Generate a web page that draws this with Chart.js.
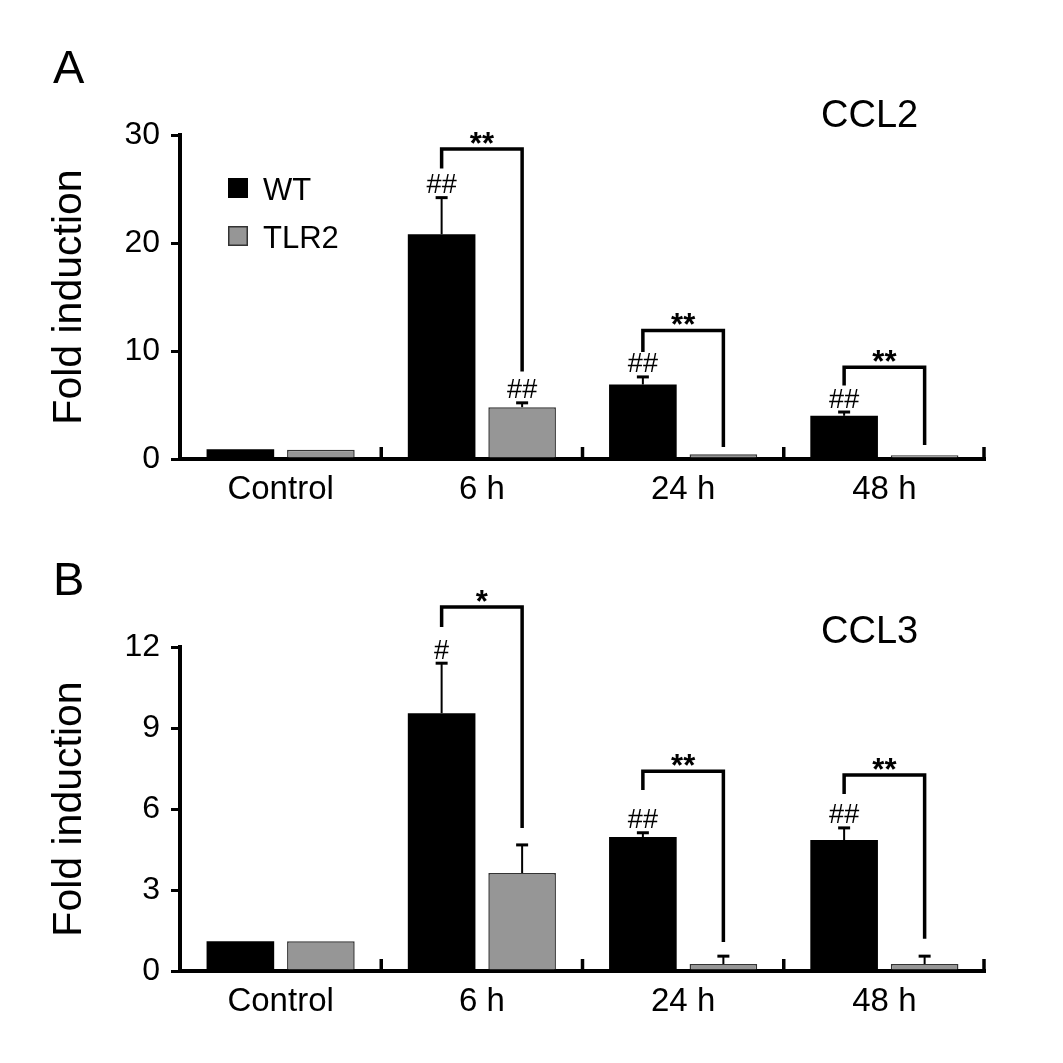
<!DOCTYPE html>
<html><head><meta charset="utf-8">
<script src="https://cdn.jsdelivr.net/npm/chart.js@4.4.1/dist/chart.umd.min.js"></script>
<style>
html,body{margin:0;padding:0;background:#fff;}
#wrap{position:relative;width:1063px;height:1063px;background:#fff;}
canvas{position:absolute;left:0;display:block;}
</style></head><body>
<div id="wrap">
<canvas id="cA" width="1063" height="531" style="top:0"></canvas>
<canvas id="cB" width="1063" height="532" style="top:531px"></canvas>
</div>
<script>
// ---------- DATA ----------
const categories = ['Control', '6 h', '24 h', '48 h'];
const seriesNames = ['WT', 'TLR2'];

// Panel A: CCL2
const ccl2YTicks = [0, 10, 20, 30];
const ccl2WT = [0.9, 20.8, 6.9, 4.0];
const ccl2TLR2 = [0.85, 4.8, 0.45, 0.35];
const ccl2WTErrTop = [null, 24.2, 7.6, 4.35];
const ccl2TLR2ErrTop = [null, 5.2, null, null];
const ccl2WTMark = ['', '##', '##', '##'];
const ccl2TLR2Mark = ['', '##', '', ''];
const ccl2BracketLeft = [null, 26.9, 9.9, 6.8];
const ccl2BracketTop = [null, 28.7, 11.9, 8.5];
const ccl2BracketRight = [null, 8.1, 1.1, 1.3];
const ccl2BracketLabel = ['', '**', '**', '**'];

// Panel B: CCL3
const ccl3YTicks = [0, 3, 6, 9, 12];
const ccl3WT = [1.1, 9.55, 4.96, 4.85];
const ccl3TLR2 = [1.1, 3.63, 0.26, 0.26];
const ccl3WTErrTop = [null, 11.4, 5.12, 5.3];
const ccl3TLR2ErrTop = [null, 4.67, 0.55, 0.55];
const ccl3WTMark = ['', '#', '##', '##'];
const ccl3TLR2Mark = ['', '', '', ''];
const ccl3BracketLeft = [null, 12.74, 6.7, 6.56];
const ccl3BracketTop = [null, 13.48, 7.4, 7.26];
const ccl3BracketRight = [null, 5.3, 1.07, 1.19];
const ccl3BracketLabel = ['', '*', '**', '**'];

// ---------- STYLE ----------
const FONT = '"Liberation Sans", Arial, Helvetica, sans-serif';
const WT_COLOR = '#000000';
const TLR2_COLOR = '#969696';
const TLR2_BORDER = '#333333';

function makeChart(id, d) {
  const annot = {
    id: 'annot',
    afterDatasetsDraw(chart) {
      const ctx = chart.ctx;
      const ys = chart.scales.y, xs = chart.scales.x;
      const area = chart.chartArea;
      const m0 = chart.getDatasetMeta(0), m1 = chart.getDatasetMeta(1);
      ctx.save();
      ctx.strokeStyle = '#000';
      ctx.fillStyle = '#000';
      ctx.lineCap = 'butt';
      // category separator ticks on x axis (pointing up)
      ctx.lineWidth = 3.5;
      for (let i = 0; i < categories.length; i++) {
        let bx;
        if (i < categories.length - 1) bx = (xs.getPixelForTick(i) + xs.getPixelForTick(i + 1)) / 2;
        else bx = area.right - 1;
        ctx.beginPath(); ctx.moveTo(bx, area.bottom); ctx.lineTo(bx, area.bottom - 12); ctx.stroke();
      }
      // error bars + marks
      const sets = [[m0, d.wtErr, d.wt, d.wtMark], [m1, d.tlErr, d.tl, d.tlMark]];
      sets.forEach(([meta, errs, vals, marks]) => {
        vals.forEach((v, i) => {
          const x = meta.data[i].x;
          const yb = ys.getPixelForValue(v);
          let topPx = yb;
          if (errs[i] != null) {
            const ye = ys.getPixelForValue(errs[i]);
            ctx.lineWidth = 2;
            ctx.beginPath(); ctx.moveTo(x, yb); ctx.lineTo(x, ye); ctx.stroke();
            ctx.lineWidth = 3;
            ctx.beginPath(); ctx.moveTo(x - 6, ye); ctx.lineTo(x + 6, ye); ctx.stroke();
            topPx = ye - 1.5;
          }
          if (marks[i]) {
            ctx.font = '27px ' + FONT;
            ctx.textAlign = 'center';
            ctx.textBaseline = 'alphabetic';
            ctx.fillText(marks[i], x, topPx - 3);
          }
        });
      });
      // brackets
      d.bl.forEach((bl, i) => {
        if (bl == null) return;
        const xl = m0.data[i].x, xr = m1.data[i].x;
        const yl = ys.getPixelForValue(bl);
        const yt = ys.getPixelForValue(d.bt[i]);
        const yr = ys.getPixelForValue(d.br[i]);
        ctx.lineWidth = 3.5;
        ctx.lineJoin = 'miter';
        ctx.beginPath(); ctx.moveTo(xl, yl); ctx.lineTo(xl, yt); ctx.lineTo(xr, yt); ctx.lineTo(xr, yr); ctx.stroke();
        ctx.font = 'bold 31px ' + FONT;
        ctx.textAlign = 'center';
        ctx.textBaseline = 'alphabetic';
        ctx.fillText(d.blab[i], (xl + xr) / 2, yt + 5);
      });
      // panel letter and gene name
      ctx.textAlign = 'left';
      ctx.textBaseline = 'alphabetic';
      ctx.font = '47px ' + FONT;
      ctx.fillText(d.letter, 53, area.top - 52);
      ctx.font = '38px ' + FONT;
      ctx.fillText(d.gene, 821, area.top - d.geneOff);
      // legend
      if (d.legend) {
        const items = [[seriesNames[0], WT_COLOR, null], [seriesNames[1], TLR2_COLOR, TLR2_BORDER]];
        items.forEach(([name, col, bc], k) => {
          const sy = 178 + k * 48;
          ctx.fillStyle = col;
          ctx.fillRect(228, sy, 20, 20);
          if (bc) { ctx.lineWidth = 1.5; ctx.strokeStyle = bc; ctx.strokeRect(228.75, sy + 0.75, 18.5, 18.5); }
          ctx.fillStyle = '#000';
          ctx.font = '31px ' + FONT;
          ctx.fillText(name, 263, sy + 22);
        });
      }
      ctx.restore();
    }
  };

  return new Chart(document.getElementById(id), {
    type: 'bar',
    data: {
      labels: categories,
      datasets: [
        { label: seriesNames[0], data: d.wt, backgroundColor: WT_COLOR, borderWidth: 0,
          categoryPercentage: 0.8, barPercentage: 0.84 },
        { label: seriesNames[1], data: d.tl, backgroundColor: TLR2_COLOR, borderColor: TLR2_BORDER, borderWidth: 1.5,
          categoryPercentage: 0.8, barPercentage: 0.84 }
      ]
    },
    options: {
      responsive: false,
      animation: false,
      devicePixelRatio: 1,
      layout: { padding: { left: 0, right: 78, top: d.top, bottom: 0 } },
      plugins: { legend: { display: false }, tooltip: { enabled: false } },
      scales: {
        x: {
          grid: { display: false },
          border: { display: true, width: 4, color: '#000' },
          ticks: { color: '#000', font: { family: FONT, size: 33 }, padding: 3, maxRotation: 0, autoSkip: false },
          afterFit: s => { s.height = d.xh; }
        },
        y: {
          min: d.ticks[0], max: d.ticks[d.ticks.length - 1],
          afterBuildTicks: s => { s.ticks = d.ticks.map(v => ({ value: v })); },
          grid: { display: true, drawOnChartArea: false, drawTicks: true, tickLength: 9, tickWidth: 3, tickColor: '#000', lineWidth: 3, color: '#000' },
          border: { display: true, width: 4, color: '#000' },
          ticks: { color: '#000', font: { family: FONT, size: 32 }, padding: 11 },
          title: { display: true, text: 'Fold induction', color: '#000', font: { family: FONT, size: 41 }, padding: { top: 45, bottom: 0 } },
          afterFit: s => { s.width = 180; }
        }
      }
    },
    plugins: [annot]
  });
}

makeChart('cA', {
  wt: ccl2WT, tl: ccl2TLR2, wtErr: ccl2WTErrTop, tlErr: ccl2TLR2ErrTop,
  wtMark: ccl2WTMark, tlMark: ccl2TLR2Mark,
  bl: ccl2BracketLeft, bt: ccl2BracketTop, br: ccl2BracketRight, blab: ccl2BracketLabel,
  ticks: ccl2YTicks, letter: 'A', gene: 'CCL2', geneOff: 8, legend: true,
  top: 135, xh: 72
});
makeChart('cB', {
  wt: ccl3WT, tl: ccl3TLR2, wtErr: ccl3WTErrTop, tlErr: ccl3TLR2ErrTop,
  wtMark: ccl3WTMark, tlMark: ccl3TLR2Mark,
  bl: ccl3BracketLeft, bt: ccl3BracketTop, br: ccl3BracketRight, blab: ccl3BracketLabel,
  ticks: ccl3YTicks, letter: 'B', gene: 'CCL3', geneOff: 4, legend: false,
  top: 116, xh: 92
});
</script>
</body></html>
